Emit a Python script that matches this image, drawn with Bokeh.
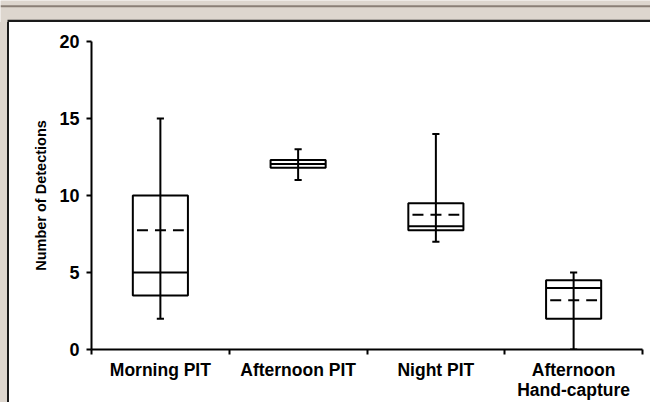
from bokeh.plotting import figure
from bokeh.models import FixedTicker, Range1d, ColumnDataSource, Div
from bokeh.layouts import column, row
from bokeh.embed import file_html
from bokeh.resources import INLINE

# ---- data ----
categories = ["Morning PIT", "Afternoon PIT", "Night PIT", "Afternoon\nHand-capture"]
whisker_low = [2, 11, 7, 0]
q1 = [3.5, 11.8, 7.75, 2]
median = [5, 12.05, 8, 4]
mean = [7.75, 12.05, 8.75, 3.2]
q3 = [10, 12.3, 9.5, 4.5]
whisker_high = [15, 13, 14, 5]
y_ticks = [0, 5, 10, 15, 20]

FONT = "Liberation Sans"
BEIGE = "#ddd6ce"
DARK = "#1a1a1a"
GREY_LINE = "#8a7f76"
BOX_HW = 0.2
MEAN_HW = 0.17
CAP_HW = 0.026

W, H = 650, 402
TOP_H = 22
LEFT_W = 9
MAIN_W, MAIN_H = W - LEFT_W, H - TOP_H

# top window strip: grey line, beige band, dark panel edge
top = figure(width=W, height=TOP_H, output_backend="svg",
             toolbar_location=None, x_axis_location=None, y_axis_location=None,
             x_range=Range1d(0, W), y_range=Range1d(TOP_H, 0), min_border=0)
top.border_fill_color = BEIGE
top.background_fill_color = BEIGE
top.outline_line_color = None
top.grid.visible = False
top.quad(left=[0], right=[W], top=[4.8], bottom=[6.8], color=GREY_LINE, line_width=0)
top.quad(left=[7], right=[W], top=[19.2], bottom=[TOP_H], color=DARK, line_width=0)

# left window strip (plain HTML block)
left = Div(text="", width=LEFT_W, height=MAIN_H, margin=0,
           styles={"background": f"linear-gradient(to right, {BEIGE} 0px, {BEIGE} 7px, {DARK} 7px, {DARK} 9px)",
                   "width": f"{LEFT_W}px", "height": f"{MAIN_H}px"})

xc = [i + 0.5 for i in range(len(categories))]
src = ColumnDataSource(dict(
    x=xc,
    left=[x - BOX_HW for x in xc], right=[x + BOX_HW for x in xc],
    mleft=[x - MEAN_HW for x in xc], mright=[x + MEAN_HW for x in xc],
    cleft=[x - CAP_HW for x in xc], cright=[x + CAP_HW for x in xc],
    low=whisker_low, q1=q1, med=median, mean=mean, q3=q3, high=whisker_high,
))

p = figure(width=MAIN_W, height=MAIN_H, output_backend="svg", toolbar_location=None,
           x_range=Range1d(0, len(categories)), y_range=Range1d(0, 20),
           min_border_left=82, min_border_right=8, min_border_top=19, min_border_bottom=52)

p.border_fill_color = "white"
p.background_fill_color = "white"
p.outline_line_color = None
p.grid.visible = False

# boxes
p.quad(left="left", right="right", bottom="q1", top="q3", source=src,
       fill_color="white", line_color="black", line_width=2)
p.segment(x0="left", x1="right", y0="med", y1="med", source=src,
          line_color="black", line_width=2)
p.segment(x0="mleft", x1="mright", y0="mean", y1="mean", source=src,
          line_color="black", line_width=2, line_dash="11 7")
p.segment(x0="x", x1="x", y0="low", y1="high", source=src,
          line_color="black", line_width=2)
p.segment(x0="cleft", x1="cright", y0="high", y1="high", source=src,
          line_color="black", line_width=2)
p.segment(x0="cleft", x1="cright", y0="low", y1="low", source=src,
          line_color="black", line_width=2)

# x axis: labels at centers, ticks at boundaries
xa = p.xaxis[0]
xa.ticker = FixedTicker(ticks=xc, minor_ticks=list(range(len(categories) + 1)))
xa.major_label_overrides = {x: c for x, c in zip(xc, categories)}
xa.major_tick_line_color = None
xa.major_tick_out = 5
xa.major_tick_in = 0
xa.minor_tick_line_color = "black"
xa.minor_tick_line_width = 2
xa.minor_tick_out = 5
xa.minor_tick_in = 0
xa.axis_line_width = 2
xa.axis_line_color = "black"
xa.major_label_text_font = FONT
xa.major_label_text_font_style = "bold"
xa.major_label_text_font_size = "17.5px"
xa.major_label_text_line_height = 1.0
xa.major_label_text_color = "black"
xa.major_label_standoff = 5

# y axis
ya = p.yaxis[0]
ya.ticker = FixedTicker(ticks=y_ticks, minor_ticks=[])
ya.major_tick_line_width = 2
ya.major_tick_out = 5
ya.major_tick_in = 0
ya.minor_tick_line_color = None
ya.axis_line_width = 2
ya.axis_line_color = "black"
ya.major_label_text_font = FONT
ya.major_label_text_font_style = "bold"
ya.major_label_text_font_size = "18px"
ya.major_label_text_color = "black"
ya.major_label_standoff = 7
ya.axis_label = "Number of Detections"
ya.axis_label_text_font = FONT
ya.axis_label_text_font_style = "bold"
ya.axis_label_text_font_size = "14.5px"
ya.axis_label_text_color = "black"
ya.axis_label_standoff = 7

layout = column(top, row(left, p, spacing=0), spacing=0)
open("out.html", "w").write(file_html(layout, INLINE))
